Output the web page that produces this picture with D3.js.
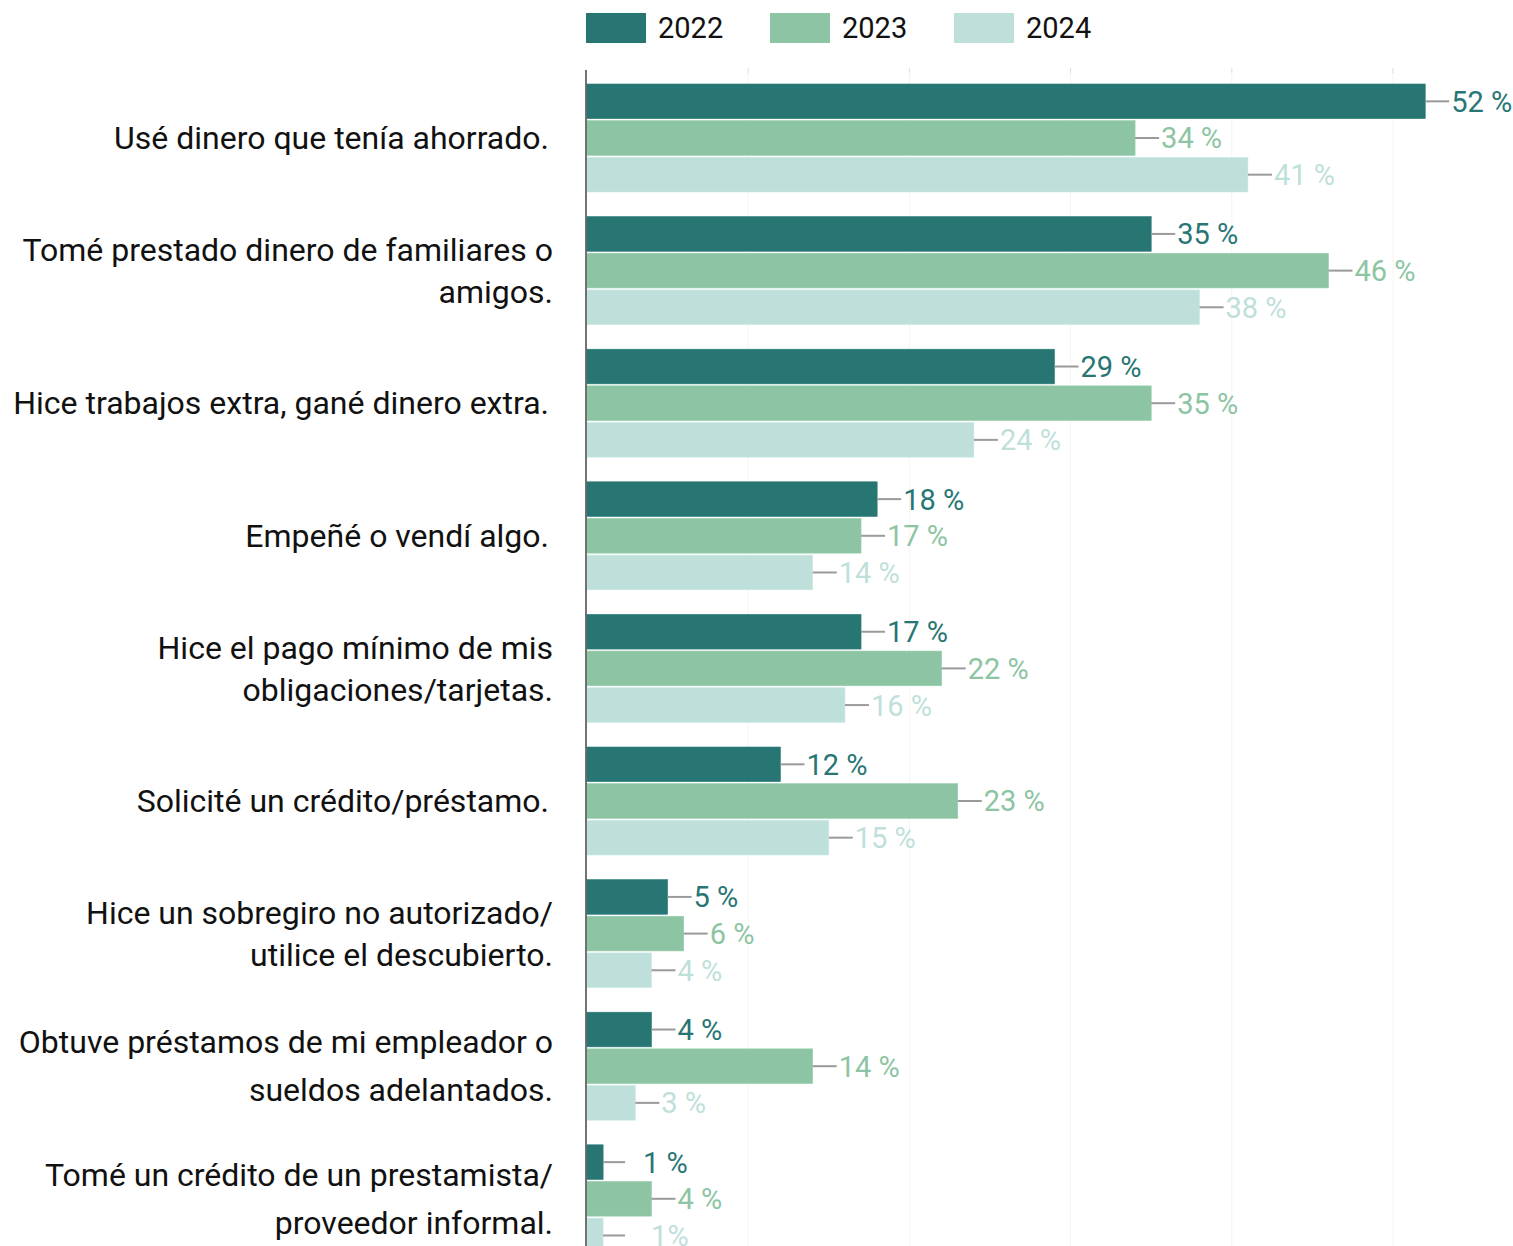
<!DOCTYPE html>
<html><head><meta charset="utf-8">
<script src="https://cdn.jsdelivr.net/npm/d3@7"></script>
<style>
html,body{margin:0;padding:0;background:#fff;}
svg{display:block;font-family:Roboto,"Noto Sans",sans-serif;}
</style></head>
<body><svg id="c" width="1513" height="1246"></svg>
<script>
const categories = [
  ["Usé dinero que tenía ahorrado."],
  ["Tomé prestado dinero de familiares o", "amigos."],
  ["Hice trabajos extra, gané dinero extra."],
  ["Empeñé o vendí algo."],
  ["Hice el pago mínimo de mis", "obligaciones/tarjetas."],
  ["Solicité un crédito/préstamo."],
  ["Hice un sobregiro no autorizado/", "utilice el descubierto."],
  ["Obtuve préstamos de mi empleador o", "sueldos adelantados."],
  ["Tomé un crédito de un prestamista/", "proveedor informal."]
];
const seriesNames = ["2022", "2023", "2024"];
const values2022 = [52, 35, 29, 18, 17, 12, 5, 4, 1];
const values2023 = [34, 46, 35, 17, 22, 23, 6, 14, 4];
const values2024 = [41, 38, 24, 14, 16, 15, 4, 3, 1];
const labels2022 = ["52 %","35 %","29 %","18 %","17 %","12 %","5 %","4 %","1 %"];
const labels2023 = ["34 %","46 %","35 %","17 %","22 %","23 %","6 %","14 %","4 %"];
const labels2024 = ["41 %","38 %","24 %","14 %","16 %","15 %","4 %","3 %","1%"];
const xTicks = [0, 10, 20, 30, 40, 50];
const colors = ["#287674", "#8dc4a3", "#bfdfdb"];

const svg = d3.select("#c");
const x = d3.scaleLinear().domain([0, 60]).range([587, 587 + 16.12 * 60]);
const step = 132.6;
const y = d3.scaleBand().domain(d3.range(categories.length))
  .range([84, 84 + step * categories.length]).paddingInner(0.2).paddingOuter(0.1).align(0);
const ySub = d3.scaleBand().domain(seriesNames).range([0, 108]).paddingInner(0.055);

const series = [
  {name: "2022", vals: values2022, labels: labels2022},
  {name: "2023", vals: values2023, labels: labels2023},
  {name: "2024", vals: values2024, labels: labels2024}
];

// gridlines
const grid = svg.append("g");
grid.selectAll("line.g").data(xTicks.slice(1)).join("line").attr("class","g")
  .attr("x1", d => x(d)).attr("x2", d => x(d))
  .attr("y1", 70).attr("y2", 1246)
  .attr("stroke", "#f4f4f4").attr("stroke-width", 1);
grid.selectAll("line.t").data(xTicks.slice(1)).join("line").attr("class","t")
  .attr("x1", d => x(d)).attr("x2", d => x(d))
  .attr("y1", 68).attr("y2", 73)
  .attr("stroke", "#ddd").attr("stroke-width", 1);

// legend
const leg = svg.append("g");
seriesNames.forEach((n, i) => {
  const lx = 586 + i * 184;
  leg.append("rect").attr("x", lx).attr("y", 13).attr("width", 60).attr("height", 30).attr("fill", colors[i]);
  leg.append("text").attr("x", lx + 72).attr("y", 28).attr("dy", "0.35em")
    .attr("font-size", 29).attr("fill", "#111").text(n);
});

// bars
series.forEach((s, si) => {
  const g = svg.append("g");
  s.vals.forEach((v, i) => {
    const by = y(i) + ySub(s.name);
    const bh = ySub.bandwidth();
    const xe = x(v);
    g.append("rect").attr("x", x(0)).attr("y", by).attr("width", xe - x(0)).attr("height", bh)
      .attr("fill", colors[si]).attr("stroke", d3.color(colors[si]).brighter(0.15)).attr("stroke-width", 0.6);
    const cy = by + bh / 2;
    const lineEnd = xe + (v < 2 ? 22 : 24);
    g.append("line").attr("x1", xe).attr("x2", lineEnd).attr("y1", cy).attr("y2", cy)
      .attr("stroke", "#9a9a9a").attr("stroke-width", 2);
    const tx = v < 2 ? lineEnd + (s.labels[i].includes(" ") ? 18 : 26) : lineEnd + 2;
    g.append("text").attr("x", tx).attr("y", cy).attr("dy", "0.36em")
      .attr("font-size", 29).attr("fill", colors[si]).text(s.labels[i]);
  });
});

// axis line
svg.append("line").attr("x1", 586).attr("x2", 586).attr("y1", 70).attr("y2", 1246)
  .attr("stroke", "#444").attr("stroke-width", 1.5);

// category labels
const cat = svg.append("g").attr("font-size", 32).attr("fill", "#111").attr("text-anchor", "end");
categories.forEach((lines, i) => {
  const cy = y(i) + 54;
  const lh = i >= 7 ? 48 : 42;
  const t = cat.append("text").attr("y", cy);
  lines.forEach((ln, k) => {
    t.append("tspan").attr("x", lines.length > 1 ? 553 : 549)
      .attr("y", cy + (k - (lines.length - 1) / 2) * lh)
      .attr("dy", "0.35em").text(ln);
  });
});
</script></body></html>
